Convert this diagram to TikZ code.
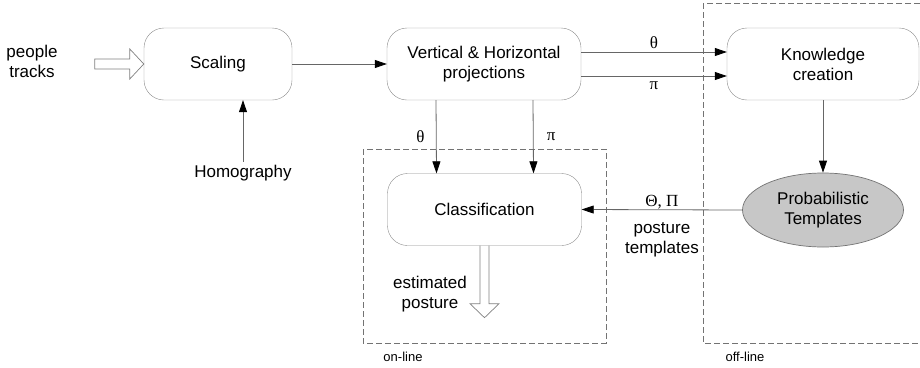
\documentclass[tikz,border=0pt]{standalone}
\usepackage{fontspec}
\setmainfont{Liberation Sans}
\newfontfamily\grkfont{Liberation Serif}
\usetikzlibrary{arrows.meta, shapes.geometric, positioning}

\begin{document}
\begin{tikzpicture}[x=1pt, y=-1pt, >={Triangle[length=12pt, width=8pt, color=black]},
    block/.style={draw=black!45, rectangle, rounded corners=20pt, minimum width=194pt, minimum height=72pt, align=center, font=\fontsize{17}{20}\selectfont},
    lbl/.style={align=center, font=\fontsize{17}{20}\selectfont},
    small/.style={font=\fontsize{13}{15}\selectfont},
    sym/.style={font=\grkfont\fontsize{17}{20}\selectfont},
    line/.style={draw=black!60, line width=0.8pt, ->},
    zone/.style={draw=black!55, line width=0.7pt, dash pattern=on 6pt off 3pt},
    fat/.style={draw=black!50, line width=0.7pt, line join=miter}]

        \useasboundingbox (0,0) rectangle (920,367);

        % On-line and off-line parts
        \draw[zone] (363,149) rectangle (606,343);
        \draw[zone] (703,3) rectangle (935,343);
        \node[small] (onlbl) at (403,357) {on-line};
        \node[small] (offlbl) at (745,357) {off-line};

        % Nodes
        \node[block, minimum width=148pt] (scaling) at (218,64) {Scaling};
        \node[block] (proj) at (484,64) {Vertical \& Horizontal\\projections};
        \node[block, minimum width=192pt] (know) at (823,64) {Knowledge\\creation};
        \node[block] (classif) at (484.5,209.5) {Classification};
        \node[draw=black!55, line width=0.7pt, fill=black!22, ellipse, minimum width=161pt, minimum height=74pt, align=center, font=\fontsize{17}{20}\selectfont] (templ) at (823,210) {Probabilistic\\Templates};

        \node[lbl] (tracks) at (32,61) {people\\tracks};
        \node[lbl] (homog) at (243,173) {Homography};
        \node[lbl] (estim) at (430,294) {estimated\\posture};

        % Hollow arrows
        \draw[fat] (scaling.west) -- ++(-14,15) -- ++(0,-10) -- ++(-35,0) -- ++(0,-10)
            -- ++(35,0) -- ++(0,-10) -- cycle;
        \draw[fat] ([xshift=-4.5pt]classif.south) -- ++(0,58) -- ++(-10,0) -- ++(14.5,14)
            -- ++(14.5,-14) -- ++(-10,0) -- ++(0,-58);

        % Arrows
        \draw[line] (homog.north) -- (homog.north |- scaling.south);
        \draw[line] (scaling) -- (proj);
        \draw[line] ([yshift=12pt]proj.east) -- ([yshift=12pt]know.west) node[midway, above=0pt, sym] {θ};
        \draw[line] ([yshift=-12pt]proj.east) -- ([yshift=-12pt]know.west) node[midway, below=2pt, sym] {π};
        \draw[line] ([xshift=-48pt]proj.south) -- ([xshift=-48pt]classif.north) node[midway, left=8pt, sym] {θ};
        \draw[line] ([xshift=49pt]proj.south) -- ([xshift=49pt]classif.north) node[midway, right=10pt, sym] {π};
        \draw[line] (know) -- (templ);
        \draw[line] (templ.west) -- (classif.east)
            node[midway, above=-3pt, sym] {Θ, Π}
            node[midway, below=9pt, lbl] {posture\\templates};
\end{tikzpicture}
\end{document}
